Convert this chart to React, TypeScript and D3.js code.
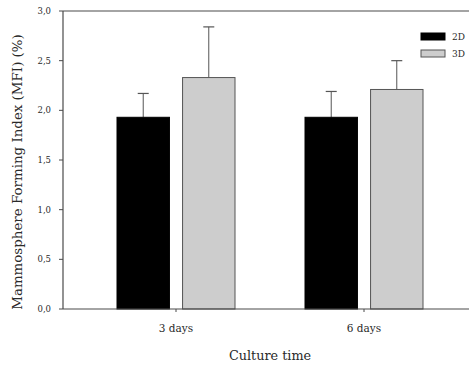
import React from "react";
import * as d3 from "d3";

const categories = ["3 days", "6 days"];
const seriesNames = ["2D", "3D"];
const values2D = [1.93, 1.93];
const values3D = [2.33, 2.21];
const errors2D = [0.24, 0.26];
const errors3D = [0.51, 0.29];
const yTicks = [0, 0.5, 1, 1.5, 2, 2.5, 3];

const W = 469;
const H = 365;
const plotLeft = 63;
const plotRight = 471;
const plotTop = 11;
const plotBottom = 309;

const font = "'DejaVu Serif', serif";
const axisColor = "#4a4a4a";
const textColor = "#2a2a2a";
const fills: Record<string, string> = { "2D": "#000000", "3D": "#cdcdcd" };

export default function App() {
  const x = d3.scaleBand<string>().domain(categories).range([82, 458]).padding(0);
  const inner = d3.scaleBand<string>().domain(seriesNames).range([-59, 59]).paddingInner(0.2);
  const y = d3.scaleLinear().domain([0, 3]).range([plotBottom, plotTop]);

  const rows = categories.flatMap((c, i) => [
    { cat: c, s: "2D", v: values2D[i], e: errors2D[i] },
    { cat: c, s: "3D", v: values3D[i], e: errors3D[i] },
  ]);

  const fmt = (d: number) => d.toFixed(1).replace(".", ",");

  return (
    <svg width={W} height={H} style={{ position: "absolute", left: 0, top: 0, background: "#fff" }}>
      {/* bars with upward error whiskers */}
      {rows.map((r, i) => {
        const cx = (x(r.cat) as number) + x.bandwidth() / 2;
        const x0 = cx + (inner(r.s) as number);
        const bw = inner.bandwidth();
        return (
          <g key={i}>
            <line x1={x0 + bw / 2} x2={x0 + bw / 2} y1={y(r.v)} y2={y(r.v + r.e)} stroke="#555" strokeWidth={1} />
            <line x1={x0 + bw / 2 - 5.5} x2={x0 + bw / 2 + 5.5} y1={y(r.v + r.e)} y2={y(r.v + r.e)} stroke="#555" strokeWidth={1.2} />
            <rect x={x0} y={y(r.v)} width={bw} height={y(0) - y(r.v)} fill={fills[r.s]} stroke={r.s === "2D" ? "#000" : "#555"} strokeWidth={1} />
          </g>
        );
      })}

      {/* frame */}
      <line x1={plotLeft} x2={plotRight} y1={plotTop} y2={plotTop} stroke={axisColor} strokeWidth={1.2} />
      <line x1={plotLeft} x2={plotRight} y1={plotBottom} y2={plotBottom} stroke={axisColor} strokeWidth={1.2} />
      <line x1={plotLeft} x2={plotLeft} y1={plotTop} y2={plotBottom} stroke={axisColor} strokeWidth={1.2} />

      {/* y axis */}
      {yTicks.map((t) => (
        <g key={t}>
          <line x1={plotLeft - 4} x2={plotLeft} y1={y(t)} y2={y(t)} stroke={axisColor} strokeWidth={1} />
          <text x={plotLeft - 12} y={y(t)} dy="0.35em" textAnchor="end" fontFamily={font} fontSize={8.5} fill={textColor}>
            {fmt(t)}
          </text>
        </g>
      ))}
      <text
        transform={`translate(22,${172}) rotate(-90)`}
        textAnchor="middle"
        fontFamily={font}
        fontSize={13.4}
        fill={textColor}
      >
        Mammosphere Forming Index (MFI) (%)
      </text>

      {/* x axis */}
      {categories.map((c) => {
        const cx = (x(c) as number) + x.bandwidth() / 2;
        return (
          <g key={c}>
            <line x1={cx} x2={cx} y1={plotBottom} y2={plotBottom + 3} stroke={axisColor} strokeWidth={1} />
            <text x={cx} y={plotBottom + 23} textAnchor="middle" fontFamily={font} fontSize={10.5} fill={textColor}>
              {c}
            </text>
          </g>
        );
      })}
      <text x={270} y={360} textAnchor="middle" fontFamily={font} fontSize={12.8} fill={textColor}>
        Culture time
      </text>

      {/* legend */}
      {seriesNames.map((s, i) => (
        <g key={s} transform={`translate(421,${33 + i * 17})`}>
          <rect x={0} y={0} width={24} height={7} fill={fills[s]} stroke={s === "2D" ? "#000" : "#555"} strokeWidth={1} />
          <text x={31} y={3.5} dy="0.35em" fontFamily={font} fontSize={9} fill={textColor}>
            {s}
          </text>
        </g>
      ))}
    </svg>
  );
}
